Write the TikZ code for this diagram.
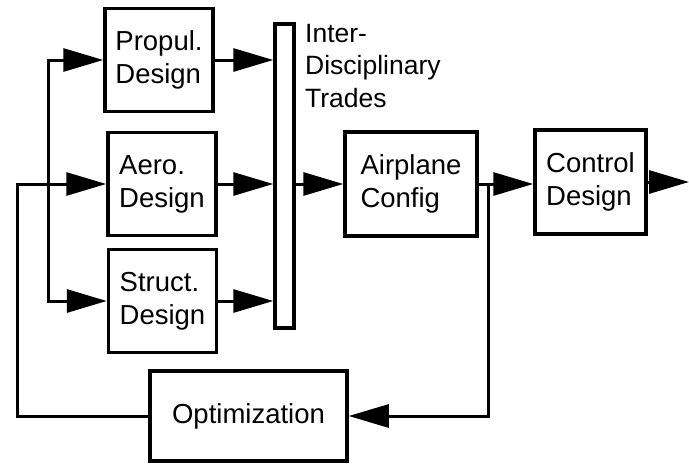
\documentclass[tikz,border=0pt]{standalone}
\usepackage{fontspec}
\setmainfont{Liberation Sans}
\usetikzlibrary{arrows.meta,positioning}

\begin{document}
\begin{tikzpicture}[
    x=1pt, y=-1pt,
    block/.style={draw, rectangle, line width=3.5pt, inner sep=0pt, align=left, font=\fontsize{27.5}{33}\selectfont},
    design/.style={block, minimum width=108pt, minimum height=103pt},
    arrow/.style={-{Triangle[length=40pt, width=23pt]}, line width=3pt}
]
\useasboundingbox (0,0) rectangle (689,466);

% Disciplines
\node[design] (propul) at (159, 60) {Propul.\\Design};
\node[design] (aero) at (162, 184) {Aero.\\Design};
\node[design] (struct) at (162.5, 301) {Struct.\\Design};

% Trades bar
\node[draw, line width=3.5pt, minimum width=19pt, minimum height=304pt, inner sep=0pt] (bar) at (284.5, 176) {};
\node[anchor=north west, inner sep=0pt, align=left, font=\fontsize{26.5}{32.5}\selectfont] (trades) at (305, 24) {Inter-\\Disciplinary\\Trades};

% Configuration and control
\node[block, minimum width=132pt, minimum height=104pt] (config) at (411, 184) {Airplane\\Config};
\node[block, minimum width=111pt, minimum height=104pt] (control) at (590.5, 182) {Control\\Design};

% Optimization
\node[block, minimum width=197pt, minimum height=90pt] (optim) at (248.5, 416) {Optimization};

% Junctions
\coordinate (fanTop) at (48, 60);
\coordinate (fanBot) at (48, 301);
\coordinate (loop) at (17, 184);
\coordinate (tap) at (488, 184);
\coordinate (out) at (689, 182);

% Arrows
\draw[arrow] (fanBot) -- (fanTop) -- (propul.west);
\draw[arrow] (fanTop) -- (fanBot) -- (struct.west);
\draw[arrow] (propul.east) -- (propul.east -| bar.west);
\draw[arrow] (aero.east) -- (aero.east -| bar.west);
\draw[arrow] (struct.east) -- (struct.east -| bar.west);
\draw[arrow] (config.west -| bar.east) -- (config.west);
\draw[arrow] (config.east) -- (config.east -| control.west);
\draw[arrow] (control.east) -- (out);
\draw[arrow] (tap) |- (optim.east);
\draw[arrow] (optim.west) -| (loop) -- (aero.west);

\end{tikzpicture}
\end{document}
